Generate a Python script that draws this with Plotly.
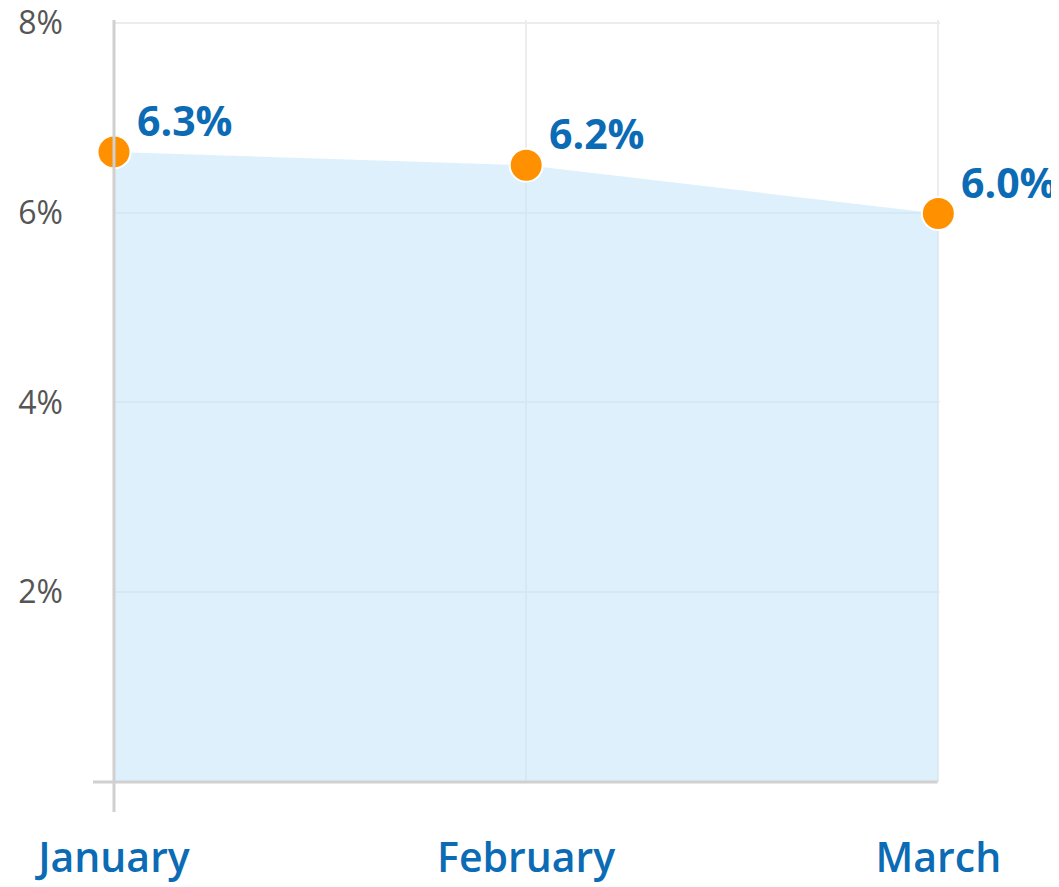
import plotly.graph_objects as go

months = ["January", "February", "March"]
values = [6.64, 6.5, 5.99]
value_labels = ["6.3%", "6.2%", "6.0%"]
y_ticks = [2, 4, 6, 8]
y_tick_labels = ["2%", "4%", "6%", "8%"]

BLUE = "#0b6bb5"
GRAY = "#d0d0d0"
GRID = "#ececec"
FONT = "Open Sans"

fig = go.Figure()
fig.add_trace(go.Scatter(
    x=months, y=values, mode="lines", fill="tozeroy",
    fillcolor="rgba(200,230,250,0.6)", line=dict(width=0, color="rgba(0,0,0,0)"),
    hoverinfo="skip", showlegend=False,
))
fig.add_trace(go.Scatter(
    x=months, y=values, mode="markers",
    marker=dict(size=33, color="#ff9100", line=dict(color="white", width=2)),
    cliponaxis=False, showlegend=False,
))

for m, v, t in zip(months, values, value_labels):
    fig.add_annotation(
        x=m, y=v, text=t, showarrow=False, xanchor="left", yanchor="middle",
        xshift=21, yshift=32,
        font=dict(family=FONT, size=41, color=BLUE, weight=700),
    )

# axis decorations: y-axis line extended below baseline, baseline extended left
fig.add_shape(type="line", xref="paper", yref="paper", x0=0, x1=0, y0=-30/762, y1=1,
              line=dict(color=GRAY, width=3), layer="above")
fig.add_shape(type="line", xref="paper", yref="paper", x0=-21/826, x1=0.997, y0=0, y1=0,
              line=dict(color=GRAY, width=3), layer="above")

fig.update_layout(
    width=1051, height=879,
    margin=dict(l=106, r=119, t=12, b=105),
    paper_bgcolor="white", plot_bgcolor="white",
    font=dict(family=FONT),
    xaxis=dict(
        type="category", range=[0, 2.004], showgrid=True, gridcolor=GRID, gridwidth=2,
        showline=False, zeroline=False, ticks="", automargin=False,
        tickfont=dict(family=FONT, size=41, color=BLUE, weight=600),
        ticklabelstandoff=48, ticklabeloverflow="allow",
    ),
    yaxis=dict(
        range=[0, 8.03], tickvals=y_ticks, ticktext=y_tick_labels,
        showgrid=True, gridcolor=GRID, gridwidth=2, zeroline=False, showline=False,
        tickfont=dict(family=FONT, size=32, color="#555555"), automargin=False,
        ticklabelstandoff=50, ticklabeloverflow="allow",
    ),
)

fig.write_html("out.html")
